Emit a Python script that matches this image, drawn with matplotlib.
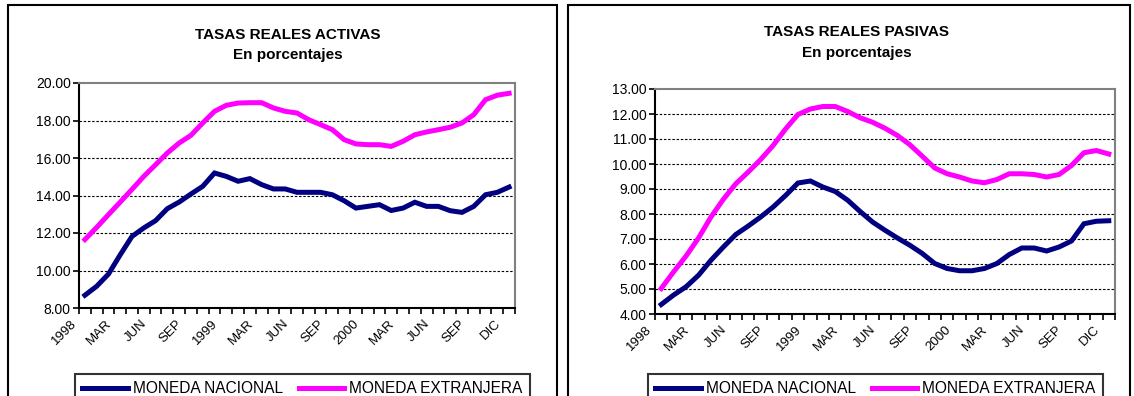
import numpy as np
import matplotlib
matplotlib.use("Agg")
import matplotlib.pyplot as plt
from matplotlib.patches import Rectangle
from matplotlib.lines import Line2D
from matplotlib.ticker import FormatStrFormatter

plt.rcParams['font.family'] = ['Liberation Sans', 'DejaVu Sans']

# Monthly series, one value per category on the x axis
tick_labels = ["1998", "MAR", "JUN", "SEP", "1999", "MAR", "JUN", "SEP",
               "2000", "MAR", "JUN", "SEP", "DIC"]
series_names = ["MONEDA NACIONAL", "MONEDA EXTRANJERA"]

activas_nacional = [8.68, 9.16, 9.81, 10.84, 11.82, 12.27, 12.66, 13.30, 13.65, 14.08,
                    14.49, 15.20, 15.02, 14.76, 14.90, 14.58, 14.35, 14.35, 14.17, 14.17,
                    14.17, 14.04, 13.72, 13.33, 13.42, 13.51, 13.20, 13.33, 13.64, 13.42,
                    13.42, 13.19, 13.10, 13.42, 14.04, 14.17, 14.45]
activas_extranjera = [11.65, 12.30, 12.98, 13.65, 14.33, 15.02, 15.64, 16.27, 16.80, 17.21,
                      17.87, 18.49, 18.81, 18.93, 18.95, 18.95, 18.67, 18.49, 18.40, 18.04,
                      17.78, 17.51, 16.98, 16.75, 16.71, 16.71, 16.62, 16.89, 17.24, 17.39,
                      17.51, 17.64, 17.87, 18.31, 19.11, 19.35, 19.45]
pasivas_nacional = [4.38, 4.76, 5.09, 5.55, 6.15, 6.68, 7.18, 7.52, 7.88, 8.28,
                    8.74, 9.24, 9.32, 9.08, 8.90, 8.55, 8.10, 7.68, 7.35, 7.04,
                    6.75, 6.42, 6.02, 5.82, 5.73, 5.73, 5.82, 6.02, 6.38, 6.64,
                    6.64, 6.52, 6.68, 6.92, 7.61, 7.71, 7.73]
pasivas_extranjera = [5.02, 5.69, 6.32, 7.04, 7.88, 8.59, 9.21, 9.68, 10.18, 10.74,
                      11.40, 11.98, 12.20, 12.30, 12.30, 12.10, 11.85, 11.67, 11.43, 11.14,
                      10.77, 10.31, 9.84, 9.61, 9.48, 9.32, 9.25, 9.38, 9.61, 9.61,
                      9.58, 9.48, 9.58, 9.94, 10.45, 10.54, 10.40]

NAVY = "#000080"
MAGENTA = "#FF00FF"
W, H = 1134, 396

fig = plt.figure(figsize=(W / 100, H / 100), dpi=100)


def px_rect(x0, y0, x1, y1):
    """Figure-fraction rect from pixel box (top-left origin)."""
    return [x0 / W, 1 - y1 / H, (x1 - x0) / W, (y1 - y0) / H]


def draw_panel(rect, nac, ext, ymin, ymax, ystep, title, title_xy, legend_box):
    ax = fig.add_axes(rect)
    n = len(nac)
    x = np.arange(n)
    ax.plot(x, nac, color=NAVY, lw=3.6, solid_joinstyle='miter', zorder=3)
    ax.plot(x, ext, color=MAGENTA, lw=3.6, solid_joinstyle='miter', zorder=3)

    ax.set_xlim(-0.5, n - 0.5)
    ax.set_ylim(ymin, ymax)
    yt = np.arange(ymin, ymax + ystep / 2, ystep)
    ax.set_yticks(yt)
    ax.yaxis.set_major_formatter(FormatStrFormatter('%.2f'))
    for y in yt[1:-1]:
        ax.axhline(y, color='black', lw=0.8, ls=(0, (2.2, 1.6)), zorder=1)

    # tick marks between categories
    ax.set_xticks(np.arange(-0.5, n, 1.0))
    ax.set_xticklabels([])
    ax.tick_params(axis='x', length=4, width=1.2, direction='out')
    ax.tick_params(axis='y', length=4, width=1.2, direction='out',
                   labelsize=10, pad=2)

    # every third category carries a label
    for k, lab in enumerate(tick_labels):
        pos = -1 + 3 * k
        ax.annotate(lab, xy=(pos, 0), xycoords=('data', 'axes fraction'),
                    xytext=(1, -10), textcoords='offset points',
                    rotation=45, ha='right', va='center', rotation_mode='anchor',
                    fontsize=9.5, annotation_clip=False)

    for side in ('left', 'bottom'):
        ax.spines[side].set_color('black')
        ax.spines[side].set_linewidth(1.5)
    for side in ('top', 'right'):
        ax.spines[side].set_color('#808080')
        ax.spines[side].set_linewidth(1.5)

    tx, ty1, ty2 = title_xy
    fig.text(tx / W, 1 - ty1 / H, title, ha='center', va='center',
             fontsize=11, fontweight='bold')
    fig.text(tx / W, 1 - ty2 / H, "En porcentajes", ha='center', va='center',
             fontsize=11, fontweight='bold')

    handles = [Line2D([], [], color=NAVY, lw=3.6), Line2D([], [], color=MAGENTA, lw=3.6)]
    lx, ly = legend_box
    leg = ax.legend(handles, series_names, loc='upper left',
                    bbox_to_anchor=(lx / W, 1 - ly / H), bbox_transform=fig.transFigure,
                    ncol=2, fontsize=11.2, frameon=True, fancybox=False,
                    handlelength=2.95, handletextpad=0.32, columnspacing=1.0,
                    borderpad=0.45, borderaxespad=0)
    leg.get_frame().set_edgecolor('black')
    leg.get_frame().set_linewidth(1.5)
    return ax


draw_panel(px_rect(79, 83, 515, 308), activas_nacional, activas_extranjera,
           8, 20, 2, "TASAS REALES ACTIVAS", (288, 35, 55), (75, 374))
draw_panel(px_rect(655, 89, 1115, 314), pasivas_nacional, pasivas_extranjera,
           4, 13, 1, "TASAS REALES PASIVAS", (857, 32, 53), (648, 374))

# chart frames
for x0, x1 in ((8, 557), (568, 1130)):
    fig.add_artist(Rectangle((x0 / W, -0.1), (x1 - x0) / W, 1.1 - 5 / H,
                             transform=fig.transFigure, fill=False,
                             ec='black', lw=1.5))

fig.savefig("out.png", dpi=100)
